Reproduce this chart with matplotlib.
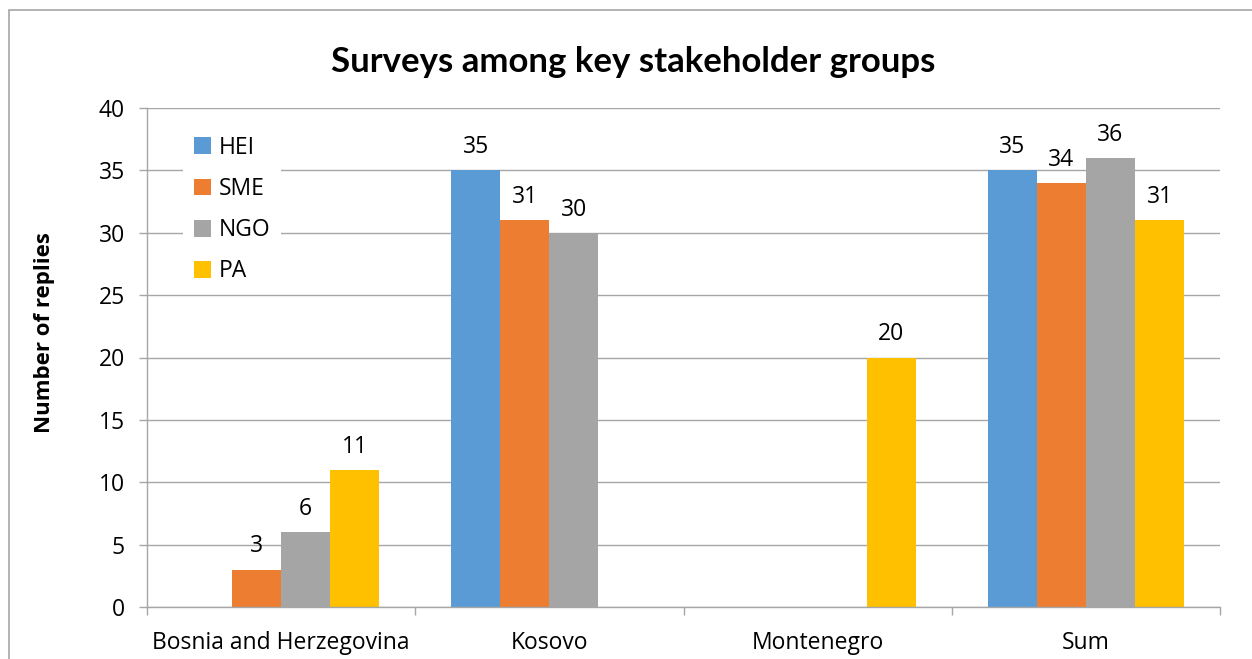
import numpy as np
import matplotlib.pyplot as plt
from matplotlib.patches import Rectangle, Patch

plt.rcParams['font.family'] = ['Open Sans', 'DejaVu Sans']

countries = ['Bosnia and Herzegovina', 'Kosovo', 'Montenegro', 'Sum']
groups = ['HEI', 'SME', 'NGO', 'PA']
hei = [np.nan, 35, np.nan, 35]
sme = [3, 31, np.nan, 34]
ngo = [6, 30, np.nan, 36]
pa = [11, np.nan, 20, 31]
colors = ['#5b9bd5', '#ed7d31', '#a5a5a5', '#ffc000']

W, H = 1252, 659
fig = plt.figure(figsize=(W / 100, H / 100), dpi=100)
ax = fig.add_axes([147 / W, 1 - 607 / H, (1220 - 147) / W, (607 - 108) / H])

x = np.arange(len(countries))
bw = 0.183
for i, (vals, c) in enumerate(zip([hei, sme, ngo, pa], colors)):
    pos = x + (i - 1.5) * bw
    ax.bar(pos, vals, width=bw, color=c, zorder=2)
    for p, v in zip(pos, vals):
        if not np.isnan(v):
            ax.annotate(f'{v:.0f}', (p, v), xytext=(0, 8), textcoords='offset points',
                        ha='center', va='bottom', fontsize=16.5)

ax.set_xlim(-0.5, len(countries) - 0.5)
ax.set_ylim(0, 40)
ax.set_yticks(range(0, 41, 5))
ax.yaxis.grid(True, color='#a6a6a6', linewidth=1, zorder=0)
ax.set_axisbelow(True)

ax.set_xticks(x)
ax.set_xticklabels(countries, fontsize=16.5)
ax.set_xticks(np.arange(-0.5, len(countries)), minor=True)
ax.tick_params(axis='x', which='major', length=0, pad=17)
ax.tick_params(axis='x', which='minor', length=6, color='#a6a6a6', width=1)
ax.tick_params(axis='y', length=6, color='#a6a6a6', width=1, labelsize=16.5, pad=10)

for s in ['top', 'right']:
    ax.spines[s].set_visible(False)
for s in ['left', 'bottom']:
    ax.spines[s].set_color('#a6a6a6')
    ax.spines[s].set_linewidth(1)

handles = [Patch(facecolor=c, label=g) for c, g in zip(colors, groups)]
leg = ax.legend(handles=handles, loc='upper left', bbox_to_anchor=(0.034, 0.965),
                borderaxespad=0, borderpad=0.45, fontsize=16.5, handlelength=0.75,
                handleheight=0.75, handletextpad=0.35, labelspacing=0.75,
                frameon=True, facecolor='white', edgecolor='none', framealpha=1, fancybox=False)

fig.text(633 / W, 1 - 62 / H, 'Surveys among key stakeholder groups', ha='center', va='center',
         fontsize=25, fontweight='bold', family=['Lato', 'DejaVu Sans'])
fig.text(45 / W, 1 - 333 / H, 'Number of replies', rotation=90, ha='center', va='center',
         fontsize=16, fontweight='bold')

fig.patches.append(Rectangle((9 / W, -0.1), 1.2, 1.1 - 10 / H, transform=fig.transFigure,
                             fill=False, edgecolor='#a6a6a6', linewidth=1.2))

fig.savefig('out.png', dpi=100)
